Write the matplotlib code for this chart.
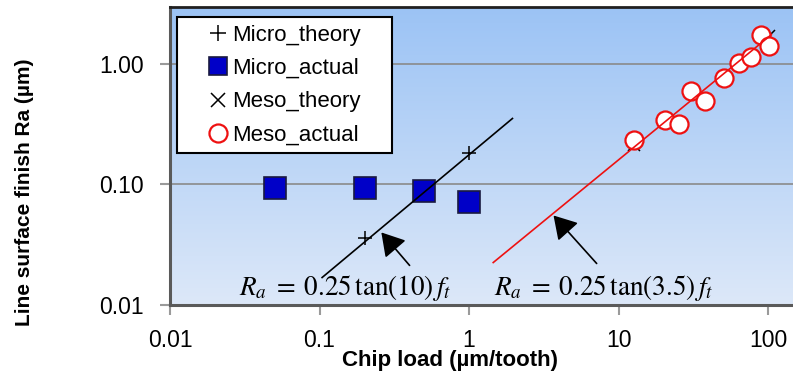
import matplotlib

matplotlib.use("Agg")
import matplotlib.pyplot as plt
import numpy as np
from matplotlib.lines import Line2D

plt.rcParams["font.family"] = ["Liberation Sans", "DejaVu Sans"]
plt.rcParams["mathtext.fontset"] = "stix"

# chip load (um/tooth) and line surface finish Ra (um)
micro_theory_x = [0.2, 1.0]
micro_theory_y = [0.036, 0.181]
micro_actual_x = [0.05, 0.2, 0.5, 1.0]
micro_actual_y = [0.093, 0.094, 0.089, 0.072]
meso_theory_x = [12.7, 101.6]
meso_theory_y = [0.212, 1.70]
meso_actual_x = [12.7, 20.3, 25.4, 30.5, 38.1, 50.8, 63.5, 76.2, 88.9, 101.6]
meso_actual_y = [0.236, 0.346, 0.315, 0.595, 0.489, 0.763, 1.02, 1.15, 1.73, 1.42]

# model lines Ra = 0.25 tan(angle) f_t
micro_line_x = [0.104, 1.95]
micro_line_y = [0.0169, 0.353]
meso_line_x = [1.45, 105.0]
meso_line_y = [0.0225, 1.75]

fig = plt.figure(figsize=(7.93, 3.79), dpi=100)
ax = fig.add_axes([0.2144, 0.1953, 0.7856, 0.7862])
ax.set_xscale("log")
ax.set_yscale("log")

# vertical blue gradient behind the plot area
top = np.array([0.61, 0.765, 0.96])
bottom = np.array([0.865, 0.91, 0.975])
t = np.linspace(0, 1, 256)[:, None]
grad = (top * (1 - t) + bottom * t)[:, None, :]
ax.imshow(grad, extent=[0, 1, 0, 1], transform=ax.transAxes, aspect="auto", zorder=0)

ax.set_xlim(0.01, 146.6)
ax.set_ylim(0.01, 2.97)

for yv in (0.1, 1.0):
    ax.axhline(yv, color="#8a8a8a", lw=1.2, zorder=1)

ax.plot(micro_actual_x, micro_actual_y, ls="none", marker="s", ms=15.5,
        mfc="#0000c8", mec="#1a1a40", mew=1.2, zorder=3)
ax.plot(micro_line_x, micro_line_y, color="black", lw=1.2, zorder=4)
ax.plot(micro_theory_x, micro_theory_y, ls="none", marker="+", ms=10,
        mew=1.1, color="black", zorder=5)

ax.plot(meso_theory_x, meso_theory_y, ls="none", marker="x", ms=9,
        mew=1.1, color="black", zorder=3)
ax.plot(meso_actual_x, meso_actual_y, ls="none", marker="o", ms=13,
        mfc="white", mec="#ee1111", mew=1.6, zorder=4)
ax.plot(meso_line_x, meso_line_y, color="#ee1111", lw=1.2, zorder=5)

arrow = dict(arrowstyle="-|>,head_length=0.5,head_width=0.3", color="black", lw=1.2,
             mutation_scale=28, shrinkA=0, shrinkB=0)
ax.annotate("", xy=(0.259, 0.040), xytext=(0.40, 0.0213), arrowprops=arrow, zorder=6)
ax.annotate("", xy=(3.67, 0.0553), xytext=(7.13, 0.0221), arrowprops=arrow, zorder=6)
ax.text(0.029, 0.0139, r"$R_a\;=\;0.25\,\tan(10)\,f_t$", fontsize=19.5,
        va="center", ha="left", zorder=6)
ax.text(1.46, 0.0139, r"$R_a\;=\;0.25\,\tan(3.5)\,f_t$", fontsize=19.5,
        va="center", ha="left", zorder=6)

ax.set_xticks([0.01, 0.1, 1, 10, 100])
ax.set_xticklabels(["0.01", "0.1", "1", "10", "100"])
ax.set_yticks([0.01, 0.1, 1.0])
ax.set_yticklabels(["0.01", "0.10", "1.00"])
ax.minorticks_off()
ax.tick_params(axis="both", which="major", labelsize=16.5, length=7, width=1.5,
               color="#9a9a9a", direction="out", pad=10)
ax.tick_params(axis="y", pad=12)

for side in ("left", "bottom"):
    ax.spines[side].set_color("#5a5a5a")
    ax.spines[side].set_linewidth(2.2)
ax.spines["top"].set_color("#202020")
ax.spines["top"].set_linewidth(2)
ax.spines["right"].set_visible(False)

ax.set_xlabel("Chip load (µm/tooth)", fontsize=16, fontweight="bold")
ax.set_ylabel("Line surface finish Ra (µm)", fontsize=15, fontweight="bold")
ax.xaxis.label.set_va("center")
ax.yaxis.label.set_va("center")
ax.xaxis.set_label_coords(0.449, -0.185)
ax.yaxis.set_label_coords(-0.233, 0.38)

handles = [
    Line2D([], [], ls="none", marker="+", ms=12, mew=1.1, color="black"),
    Line2D([], [], ls="none", marker="s", ms=13, mfc="#0000c8", mec="#1a1a40", mew=1.2),
    Line2D([], [], ls="none", marker="x", ms=10, mew=1.1, color="black"),
    Line2D([], [], ls="none", marker="o", ms=13, mfc="white", mec="#ee1111", mew=1.6),
]
labels = ["Micro_theory", "Micro_actual", "Meso_theory", "Meso_actual"]
leg = ax.legend(handles, labels, loc="upper left", bbox_to_anchor=(0.011, 0.0, 0.346, 0.966),
                mode="expand", fontsize=16, frameon=True, fancybox=False, edgecolor="black",
                framealpha=1, borderaxespad=0, handlelength=3.0, handletextpad=-0.85,
                labelspacing=0.55, borderpad=0.35)
leg.get_frame().set_linewidth(1.5)
leg.set_zorder(10)

fig.savefig("out.png", dpi=100)
